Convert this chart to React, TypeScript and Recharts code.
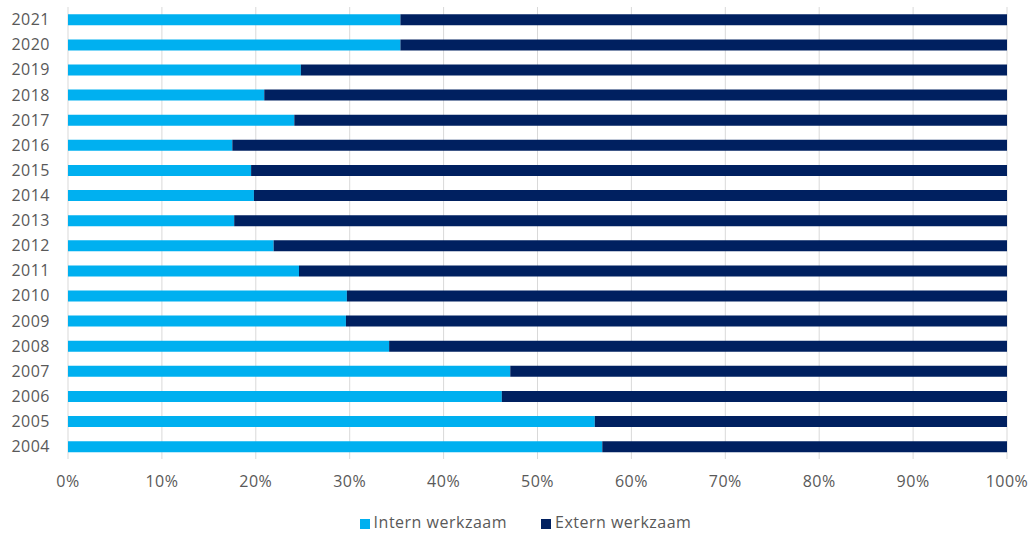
import { BarChart, Bar, XAxis, YAxis, CartesianGrid, Legend } from 'recharts'

// jaren van boven naar beneden
const years = [
  '2021', '2020', '2019', '2018', '2017', '2016', '2015', '2014', '2013',
  '2012', '2011', '2010', '2009', '2008', '2007', '2006', '2005', '2004',
]

// aandeel intern werkzaam (%), zelfde volgorde als years
const intern = [
  35.4, 35.4, 24.8, 20.9, 24.1, 17.5, 19.5, 19.8, 17.7,
  21.9, 24.6, 29.7, 29.6, 34.2, 47.1, 46.2, 56.1, 56.9,
]

// aandeel extern werkzaam (%) = rest tot 100
const extern = intern.map((v) => 100 - v)

const xTicks = [0, 10, 20, 30, 40, 50, 60, 70, 80, 90, 100]

const data = years.map((year, i) => ({
  year,
  intern: intern[i],
  extern: extern[i],
}))

const font = '"Open Sans", "Liberation Sans", Arial, sans-serif'
const textStyle = { fill: '#595959', fontSize: 16, letterSpacing: 0.5 }

const legendOrder: Record<string, number> = { 'Intern werkzaam': 0, 'Extern werkzaam': 1 }

export default function App() {
  return (
    <div style={{ position: 'absolute', left: 0, top: 0, width: 1032, height: 534, background: '#fff' }}>
      <BarChart
        width={1032}
        height={534}
        data={data}
        layout="vertical"
        margin={{ top: 7, right: 25, bottom: 23, left: 0 }}
        barCategoryGap="29%"
        style={{ fontFamily: font }}
      >
        <CartesianGrid horizontal={false} stroke="#d9d9d9" />
        <XAxis
          type="number"
          domain={[0, 100]}
          ticks={xTicks}
          tickFormatter={(v: number) => `${v}%`}
          axisLine={false}
          tickLine={false}
          tickMargin={11}
          height={30}
          tick={textStyle}
        />
        <YAxis
          type="category"
          dataKey="year"
          width={68}
          axisLine={false}
          tickLine={false}
          tickMargin={12}
          tick={textStyle}
        />
        <Legend
          verticalAlign="bottom"
          align="center"
          iconType="square"
          iconSize={10}
          itemSorter={(item: any) => legendOrder[item.value] ?? 0}
          wrapperStyle={{ bottom: 1, left: 39, fontSize: 16, letterSpacing: 0.5 }}
          formatter={(value: string) => <span style={{ color: '#595959', marginRight: 24 }}>{value}</span>}
        />
        <Bar dataKey="intern" name="Intern werkzaam" stackId="a" fill="#00b0f0" isAnimationActive={false} />
        <Bar dataKey="extern" name="Extern werkzaam" stackId="a" fill="#002060" isAnimationActive={false} />
      </BarChart>
    </div>
  )
}
